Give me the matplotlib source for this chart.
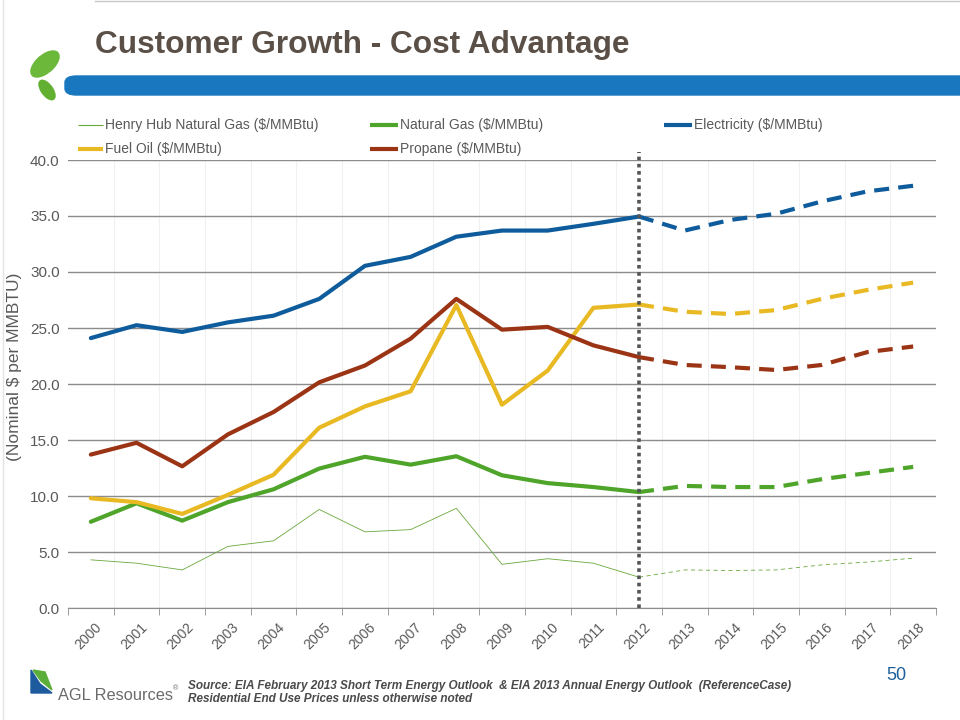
import matplotlib.pyplot as plt
import matplotlib.transforms as mtransforms
from matplotlib.lines import Line2D
from matplotlib.patches import FancyBboxPatch, Ellipse, Polygon

# Years on the x axis
years = ['2000', '2001', '2002', '2003', '2004', '2005', '2006', '2007', '2008', '2009',
         '2010', '2011', '2012', '2013', '2014', '2015', '2016', '2017', '2018']

# Prices, $/MMBtu (2000-2018, 2013 on is forecast)
henry_hub = [4.3, 4.0, 3.4, 5.5, 6.0, 8.8, 6.8, 7.0, 8.9, 3.9,
             4.4, 4.0, 2.75, 3.4, 3.35, 3.4, 3.85, 4.1, 4.45]
natural_gas = [7.7, 9.35, 7.8, 9.45, 10.6, 12.45, 13.5, 12.8, 13.55, 11.85,
               11.15, 10.8, 10.35, 10.9, 10.8, 10.8, 11.5, 12.05, 12.6]
electricity = [24.1, 25.25, 24.65, 25.5, 26.1, 27.6, 30.55, 31.35, 33.15, 33.7,
               33.7, 34.3, 34.95, 33.7, 34.65, 35.2, 36.3, 37.2, 37.7]
fuel_oil = [9.8, 9.45, 8.4, 10.1, 11.9, 16.1, 18.0, 19.35, 27.05, 18.15,
            21.2, 26.8, 27.1, 26.45, 26.25, 26.6, 27.6, 28.4, 29.05]
propane = [13.7, 14.75, 12.65, 15.5, 17.5, 20.15, 21.65, 24.05, 27.6, 24.85,
           25.1, 23.45, 22.4, 21.7, 21.5, 21.25, 21.7, 22.85, 23.35]

last_actual = 12  # index of 2012

series = [
    ('Henry Hub Natural Gas ($/MMBtu)', henry_hub, '#6aa83a', 0.6),
    ('Natural Gas ($/MMBtu)', natural_gas, '#4ea52a', 3.0),
    ('Electricity ($/MMBtu)', electricity, '#0e5c9c', 3.0),
    ('Fuel Oil ($/MMBtu)', fuel_oil, '#e8b923', 3.0),
    ('Propane ($/MMBtu)', propane, '#9b3414', 3.0),
]

fig = plt.figure(figsize=(9.6, 7.2), dpi=100)
plt.rcParams['font.family'] = ['Liberation Sans', 'DejaVu Sans']

ax = fig.add_axes([68 / 960, 1 - 608 / 720, 868 / 960, 448 / 720])

x = list(range(len(years)))

# Draw actuals solid, forecast dashed
for name, vals, color, lw in series:
    ax.plot(x[:last_actual + 1], vals[:last_actual + 1], color=color, lw=lw,
            solid_capstyle='round', solid_joinstyle='round', zorder=3)
    if lw < 1:
        dash = (0, (5, 4))
    else:
        dash = (0, (3.6, 2.2))
    ax.plot(x[last_actual:], vals[last_actual:], color=color, lw=lw,
            linestyle=dash, zorder=3)

# Dotted divider between actual and forecast
ax.plot([last_actual, last_actual], [0, 40.7], color='#555555', lw=2.6,
        linestyle=(0, (1, 1)), clip_on=False, zorder=4)

# Axes styling
ax.set_xlim(-0.5, len(years) - 0.5)
ax.set_ylim(0, 40)
ax.set_yticks([0, 5, 10, 15, 20, 25, 30, 35, 40])
ax.set_yticklabels(['%.1f' % v for v in ax.get_yticks()])
ax.tick_params(axis='y', length=0, pad=6, labelsize=11, labelcolor='#595959')
ax.grid(axis='y', color='#8c8c8c', lw=1.0, zorder=1)

# Category boundaries carry the tick marks and the faint vertical grid
bounds = [i - 0.5 for i in range(len(years) + 1)]
ax.set_xticks(bounds, minor=True)
ax.set_xticks(x)
ax.set_xticklabels(years, rotation=45, ha='right', va='top', rotation_mode='anchor')
ax.tick_params(axis='x', which='major', length=0, pad=9, labelsize=10, labelcolor='#595959')
ax.tick_params(axis='x', which='minor', length=5, color='#8c8c8c', direction='out')
for b in bounds[1:-1]:
    ax.axvline(b, color='#f0f0f0', lw=0.8, zorder=0)
shift = mtransforms.ScaledTranslation(4 / 100, 0, fig.dpi_scale_trans)
for lab in ax.get_xticklabels():
    lab.set_transform(lab.get_transform() + shift)

for side in ['left', 'right', 'top']:
    ax.spines[side].set_visible(False)
ax.spines['bottom'].set_color('#8c8c8c')

fig.text(15 / 960, 1 - 367 / 720, '(Nominal $ per MMBTU)', rotation=90, ha='center',
         va='center', fontsize=12.5, color='#595959')

# Legend drawn by hand to match the slide layout
legend_pos = [
    (0, 78, 103, 125), (1, 370, 398, 125), (2, 664, 692, 125),
    (3, 78, 103, 149), (4, 370, 398, 149),
]
for idx, x0, x1, y in legend_pos:
    name, vals, color, lw = series[idx]
    fig.add_artist(Line2D([x0 / 960, x1 / 960], [1 - y / 720, 1 - y / 720],
                          color=color, lw=max(lw, 0.8), solid_capstyle='butt'))
    fig.text((x1 + 2) / 960, 1 - y / 720, name, ha='left', va='center',
             fontsize=10, color='#595959')

# Slide header: title, blue bar, leaves
fig.text(95 / 960, 1 - 53 / 720, 'Customer Growth - Cost Advantage', ha='left',
         va='baseline', fontsize=22.8, fontweight='bold', color='#5b5047')
bar = FancyBboxPatch((65 / 960, 1 - 95 / 720), 910 / 960, 19 / 720,
                     boxstyle='round,pad=0,rounding_size=0.012',
                     transform=fig.transFigure, color='#1877be', mutation_aspect=0.75)
fig.add_artist(bar)
fig.add_artist(Ellipse((45 / 960, 1 - 64 / 720), 20 / 960, 30 / 720, angle=-35,
                       transform=fig.transFigure, color='#6cb83a'))
fig.add_artist(Ellipse((47 / 960, 1 - 90 / 720), 12 / 960, 21 / 720, angle=25,
                       transform=fig.transFigure, color='#62b032'))

# Top and left page edge
fig.add_artist(Line2D([95 / 960, 1], [0.999, 0.999], color='#c8c8c8', lw=1))
fig.add_artist(Line2D([3 / 960, 3 / 960], [0, 1], color='#e4e4e4', lw=1))

# Footer: logo, source note, page number
fig.add_artist(Polygon([(31 / 960, 1 - 670 / 720), (31 / 960, 1 - 693 / 720),
                        (52 / 960, 1 - 693 / 720), (40 / 960, 1 - 684 / 720)],
                       closed=True, transform=fig.transFigure, color='#1d5a9e'))
fig.add_artist(Polygon([(33 / 960, 1 - 670 / 720), (45 / 960, 1 - 672 / 720),
                        (52 / 960, 1 - 690 / 720), (41 / 960, 1 - 681 / 720)],
                       closed=True, transform=fig.transFigure, color='#5cae3a'))
fig.text(58 / 960, 1 - 700 / 720, 'AGL Resources', ha='left', va='baseline',
         fontsize=11.8, color='#6b6b6b')
fig.text(173 / 960, 1 - 690 / 720, '®', ha='left', va='baseline', fontsize=5, color='#6b6b6b')
fig.text(188 / 960, 1 - 686 / 720,
         'Source: EIA February 2013 Short Term Energy Outlook  & EIA 2013 Annual Energy Outlook  (ReferenceCase)',
         ha='left', va='center', fontsize=8.5, fontweight='bold', style='italic', color='#4a4a4a')
fig.text(188 / 960, 1 - 699 / 720, 'Residential End Use Prices unless otherwise noted',
         ha='left', va='center', fontsize=8.5, fontweight='bold', style='italic', color='#4a4a4a')
fig.text(906 / 960, 1 - 676 / 720, '50', ha='right', va='center', fontsize=13,
         color='#1f5f99')

fig.savefig('out.png', dpi=100)
